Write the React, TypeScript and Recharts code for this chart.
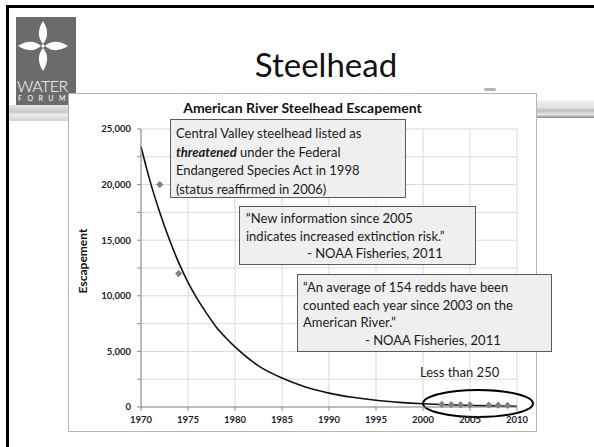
import { ComposedChart, Line, Scatter, XAxis, YAxis, CartesianGrid, ReferenceArea } from "recharts";

// observed escapement counts
const countYears = [1972, 1974, 2002, 2003, 2004, 2005, 2007, 2008, 2009];
const countValues = [20000, 12000, 230, 210, 200, 190, 180, 160, 140];

// exponential trend line, sampled along the fitted curve
const trendYears = [1970, 1971, 1972, 1973, 1974, 1975, 1976, 1977, 1978, 1979, 1980, 1982.5, 1985, 1987.5, 1990, 1992.5, 1995, 1997.5, 2000, 2002.5, 2005, 2007.5, 2010];
const trendValues = [23400, 20200, 17500, 15100, 13000, 11200, 9700, 8400, 7200, 6250, 5400, 3700, 2600, 1800, 1250, 870, 600, 420, 290, 200, 140, 100, 70];

const xTicks = [1970, 1975, 1980, 1985, 1990, 1995, 2000, 2005, 2010];
const yTicks = [0, 2500, 5000, 7500, 10000, 12500, 15000, 17500, 20000, 22500, 25000];

const counts = countYears.map((year, i) => ({ year, count: countValues[i] }));
const trend = trendYears.map((year, i) => ({ year, trend: trendValues[i] }));

const FONT = "Lato, 'Open Sans', sans-serif";

const Diamond = (props: any) => {
  const { cx, cy } = props;
  const r = 3.6;
  return <polygon points={`${cx},${cy - r} ${cx + r},${cy} ${cx},${cy + r} ${cx - r},${cy}`} fill="#808080" />;
};

const Ellipse = (props: any) => {
  const { x, y, width, height } = props;
  return (
    <ellipse
      cx={x + width / 2}
      cy={y + height / 2}
      rx={width / 2}
      ry={Math.abs(height) / 2}
      fill="none"
      stroke="#000"
      strokeWidth={2}
    />
  );
};

const noteBox: React.CSSProperties = {
  position: "absolute",
  background: "#efefef",
  border: "1px solid #5a5a5a",
  boxSizing: "border-box",
  fontFamily: FONT,
  fontSize: 13,
  color: "#1a1a1a",
  whiteSpace: "nowrap",
};

function Logo() {
  const petal = "M43,21 C48,29 49,37 43,44 C37,37 38,29 43,21 Z";
  return (
    <div style={{ position: "absolute", left: 16, top: 17, width: 60, height: 88, background: "#6b6b6b", overflow: "hidden" }}>
      <svg width={60} height={88} style={{ position: "absolute", left: 0, top: 0 }}>
        <g transform="translate(-16,-17)">
          {[0, 90, 180, 270].map((a) => (
            <path key={a} d={petal} fill="#fff" transform={`rotate(${a} 43 46)`} />
          ))}
          <rect x={41.5} y={44.5} width={3} height={3} fill="#fff" transform="rotate(45 43 46)" />
        </g>
      </svg>
      <div style={{ position: "absolute", left: 1, top: 59, fontFamily: FONT, fontWeight: 300, fontSize: 16, color: "#fff", letterSpacing: -0.5 }}>
        WATER
      </div>
      <div style={{ position: "absolute", left: 2, top: 77, fontFamily: FONT, fontSize: 7, color: "#fff", letterSpacing: 5.5 }}>
        FORUM
      </div>
    </div>
  );
}

export default function App() {
  return (
    <div style={{ position: "fixed", left: 0, top: 0, width: 594, height: 447, background: "#fff", overflow: "hidden" }}>
      {/* slide frame */}
      <div style={{ position: "absolute", left: 6, top: 5, width: 700, height: 600, border: "3px solid #000", boxSizing: "border-box" }} />

      {/* banner strip behind the chart */}
      <div style={{ position: "absolute", left: 9, top: 105, width: 60, height: 16, background: "linear-gradient(180deg, #e4e4e4 0%, #c9c9c9 45%, #ececec 60%, #d2d2d2 100%)" }} />
      <div style={{ position: "absolute", left: 536, top: 100, width: 60, height: 18, background: "linear-gradient(180deg, #f4f4f4 0%, #e2e2e2 40%, #bdbdbd 60%, #e6e6e6 80%, #8a8a8a 100%)" }} />
      <div style={{ position: "absolute", left: 484, top: 88, width: 12, height: 3, borderRadius: 3, background: "#b5b5b5" }} />

      <Logo />

      <div style={{ position: "absolute", left: 0, width: 652, top: 44, textAlign: "center", fontFamily: FONT, fontSize: 33, color: "#111" }}>
        Steelhead
      </div>

      {/* chart frame */}
      <div style={{ position: "absolute", left: 68, top: 93, width: 469, height: 339, background: "#fff", border: "1px solid #b5b5b5", boxSizing: "border-box" }} />
      <div style={{ position: "absolute", left: 68, width: 469, top: 99, textAlign: "center", fontFamily: FONT, fontWeight: 700, fontSize: 14, color: "#111" }}>
        American River Steelhead Escapement
      </div>
      <div style={{ position: "absolute", left: 82, top: 261, transform: "translate(-50%, -50%) rotate(-90deg)", fontFamily: FONT, fontWeight: 700, fontSize: 12, color: "#111" }}>
        Escapement
      </div>

      <div style={{ position: "absolute", left: 68, top: 93 }}>
        <ComposedChart width={469} height={339} margin={{ top: 36, right: 20, bottom: 0, left: 33 }}>
          <CartesianGrid stroke="#d9d9d9" strokeWidth={1} />
          <XAxis
            type="number"
            dataKey="year"
            domain={[1970, 2010]}
            ticks={xTicks}
            height={25}
            axisLine={{ stroke: "#8a8a8a" }}
            tickLine={{ stroke: "#8a8a8a" }}
            tickSize={4}
            tickMargin={5}
            tick={{ fill: "#222", fontSize: 9.5, fontWeight: 700, fontFamily: FONT }}
          />
          <YAxis
            type="number"
            domain={[0, 25000]}
            ticks={yTicks}
            width={40}
            axisLine={{ stroke: "#8a8a8a" }}
            tickLine={{ stroke: "#8a8a8a" }}
            tickSize={4}
            tickMargin={6}
            tickFormatter={(v: number) => (v % 5000 === 0 ? v.toLocaleString("en-US") : "")}
            tick={{ fill: "#222", fontSize: 9.5, fontWeight: 700, fontFamily: FONT }}
          />
          <Line
            data={trend}
            dataKey="trend"
            type="monotone"
            stroke="#111"
            strokeWidth={1.6}
            dot={false}
            isAnimationActive={false}
          />
          <Scatter data={counts} dataKey="count" shape={Diamond} isAnimationActive={false} />
          <ReferenceArea x1={2000} x2={2011.7} y1={-900} y2={1530} ifOverflow="visible" shape={Ellipse} />
        </ComposedChart>
      </div>

      {/* annotations */}
      <div style={{ ...noteBox, left: 170, top: 119, width: 236, height: 79, padding: "4px 5px", lineHeight: "18.5px" }}>
        <div>Central Valley steelhead listed as</div>
        <div>
          <b><i>threatened</i></b> under the Federal
        </div>
        <div>Endangered Species Act in 1998</div>
        <div>(status reaffirmed in 2006)</div>
      </div>
      <div style={{ ...noteBox, left: 239, top: 206, width: 237, height: 59, padding: "3px 6px", lineHeight: "17.5px" }}>
        <div>“New information since 2005</div>
        <div>indicates increased extinction risk.”</div>
        <div style={{ paddingLeft: 61 }}>- NOAA Fisheries, 2011</div>
      </div>
      <div style={{ ...noteBox, left: 297, top: 274, width: 255, height: 78, padding: "4px 5px", lineHeight: "17.6px" }}>
        <div>“An average of 154 redds have been</div>
        <div>counted each year since 2003 on the</div>
        <div>American River.”</div>
        <div style={{ paddingLeft: 62 }}>- NOAA Fisheries, 2011</div>
      </div>
      <div style={{ position: "absolute", left: 420, top: 364, fontFamily: FONT, fontSize: 13, color: "#1a1a1a", whiteSpace: "nowrap" }}>
        Less than 250
      </div>
    </div>
  );
}
